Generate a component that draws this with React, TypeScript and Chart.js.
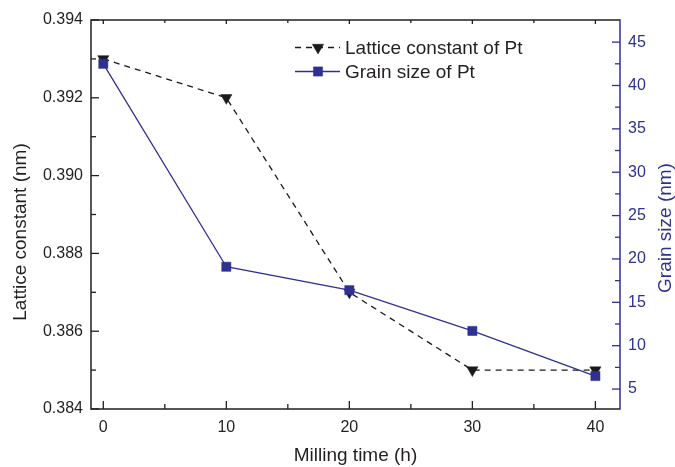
import React, { useEffect, useRef } from 'react';
import { Chart, registerables } from 'chart.js';
import { drawPoint } from 'chart.js/helpers';

Chart.register(...registerables);

// ---- data ----
const millingTime = [0, 10, 20, 30, 40];
const latticeConstant = [0.393, 0.392, 0.387, 0.385, 0.385];
const grainSize = [42.5, 19.1, 16.4, 11.7, 6.5];

// ---- ticks ----
const xTicks = [0, 10, 20, 30, 40];
const xMinorTicks = [5, 15, 25, 35];
const latticeTicks = [0.384, 0.386, 0.388, 0.39, 0.392, 0.394];
const latticeMinorTicks = [0.385, 0.387, 0.389, 0.391, 0.393];
const grainTicks = [5, 10, 15, 20, 25, 30, 35, 40, 45];
const grainMinorTicks = [7.5, 12.5, 17.5, 22.5, 27.5, 32.5, 37.5, 42.5];

// ---- text ----
const latticeLabel = 'Lattice constant of Pt';
const grainLabel = 'Grain size of Pt';
const xTitle = 'Milling time (h)';
const yLeftTitle = 'Lattice constant (nm)';
const yRightTitle = 'Grain size (nm)';

const TEXT = '#231f20';
const BLUE = '#2e3192';
const FONT_FAMILY = '"Liberation Sans", Arial, Helvetica, sans-serif';

const framePlugin = {
  id: 'framePlugin',
  afterDraw(chart: any) {
    const { ctx, chartArea: a, scales } = chart;
    const x = scales.x;
    const yl = scales.y;
    const yr = scales.y2;
    ctx.save();
    ctx.lineWidth = 1.5;
    ctx.lineCap = 'butt';

    // frame
    ctx.strokeStyle = TEXT;
    ctx.beginPath();
    ctx.moveTo(a.right, a.top);
    ctx.lineTo(a.left, a.top);
    ctx.lineTo(a.left, a.bottom);
    ctx.lineTo(a.right, a.bottom);
    ctx.stroke();
    ctx.strokeStyle = BLUE;
    ctx.beginPath();
    ctx.moveTo(a.right, a.top - 0.75);
    ctx.lineTo(a.right, a.bottom + 0.75);
    ctx.stroke();

    // x ticks (bottom up, top down)
    ctx.strokeStyle = TEXT;
    ctx.lineWidth = 1.3;
    const xt = (vals: number[], lenB: number, lenT: number) => {
      vals.forEach((v) => {
        const px = x.getPixelForValue(v);
        ctx.beginPath();
        ctx.moveTo(px, a.bottom);
        ctx.lineTo(px, a.bottom - lenB);
        ctx.moveTo(px, a.top);
        ctx.lineTo(px, a.top + lenT);
        ctx.stroke();
      });
    };
    xt(xTicks, 8, 4);
    xt(xMinorTicks, 5, 3);

    // left ticks
    const lt = (vals: number[], len: number) => {
      vals.forEach((v) => {
        const py = yl.getPixelForValue(v);
        ctx.beginPath();
        ctx.moveTo(a.left, py);
        ctx.lineTo(a.left + len, py);
        ctx.stroke();
      });
    };
    lt(latticeTicks, 8);
    lt(latticeMinorTicks, 5);

    // right ticks
    ctx.strokeStyle = BLUE;
    const rt = (vals: number[], len: number) => {
      vals.forEach((v) => {
        const py = yr.getPixelForValue(v);
        ctx.beginPath();
        ctx.moveTo(a.right, py);
        ctx.lineTo(a.right - len, py);
        ctx.stroke();
      });
    };
    rt(grainTicks, 8);
    rt(grainMinorTicks, 5);

    // axis titles
    ctx.font = `19px ${FONT_FAMILY}`;
    ctx.textAlign = 'center';
    ctx.textBaseline = 'alphabetic';
    ctx.fillStyle = TEXT;
    ctx.fillText(xTitle, (a.left + a.right) / 2, 461);

    ctx.save();
    ctx.translate(26, 232);
    ctx.rotate(-Math.PI / 2);
    ctx.fillText(yLeftTitle, 0, 0);
    ctx.restore();

    ctx.save();
    ctx.fillStyle = BLUE;
    ctx.translate(670.5, 228);
    ctx.rotate(-Math.PI / 2);
    ctx.fillText(yRightTitle, 0, 0);
    ctx.restore();

    // legend
    const ds = chart.data.datasets;
    const rows = [
      { d: ds[0], base: 54 },
      { d: ds[1], base: 78 },
    ];
    const x0 = 295;
    const x1 = 340;
    const xm = 318;
    rows.forEach(({ d, base }) => {
      const ly = base - 6.5;
      ctx.save();
      ctx.strokeStyle = d.borderColor;
      ctx.lineWidth = d.borderWidth;
      ctx.setLineDash(d.borderDash || []);
      ctx.beginPath();
      ctx.moveTo(x0, ly);
      ctx.lineTo(x1, ly);
      ctx.stroke();
      ctx.restore();
      ctx.save();
      ctx.fillStyle = d.pointBackgroundColor;
      ctx.strokeStyle = d.pointBorderColor;
      ctx.lineWidth = d.pointBorderWidth;
      drawPoint(ctx, {
        pointStyle: d.pointStyle,
        rotation: d.pointRotation || 0,
        radius: d.pointRadius,
        borderWidth: d.pointBorderWidth,
      } as any, xm, ly);
      ctx.restore();
      ctx.font = `19px ${FONT_FAMILY}`;
      ctx.fillStyle = TEXT;
      ctx.textAlign = 'left';
      ctx.textBaseline = 'alphabetic';
      ctx.fillText(d.label, 345, base);
    });

    ctx.restore();
  },
};

export default function App() {
  const ref = useRef<HTMLCanvasElement | null>(null);

  useEffect(() => {
    if (!ref.current) return;
    const tickFont = { family: FONT_FAMILY, size: 16 };
    const chart = new Chart(ref.current, {
      type: 'line',
      data: {
        datasets: [
          {
            label: latticeLabel,
            data: millingTime.map((t, i) => ({ x: t, y: latticeConstant[i] })),
            yAxisID: 'y',
            borderColor: '#1a1a1a',
            backgroundColor: '#1a1a1a',
            borderWidth: 1.3,
            borderDash: [6, 5],
            pointStyle: 'triangle',
            pointRotation: 180,
            pointRadius: 6.5,
            pointBackgroundColor: '#1a1a1a',
            pointBorderColor: '#1a1a1a',
            pointBorderWidth: 0.5,
            tension: 0,
            order: 2,
          },
          {
            label: grainLabel,
            data: millingTime.map((t, i) => ({ x: t, y: grainSize[i] })),
            yAxisID: 'y2',
            borderColor: BLUE,
            backgroundColor: BLUE,
            borderWidth: 1.3,
            pointStyle: 'rect',
            pointRadius: 6.5,
            pointBackgroundColor: BLUE,
            pointBorderColor: BLUE,
            pointBorderWidth: 0.5,
            tension: 0,
            order: 1,
          },
        ],
      },
      options: {
        responsive: false,
        animation: false,
        devicePixelRatio: 1,
        layout: { padding: { top: 20, left: 0, right: 0, bottom: 0 } },
        plugins: {
          legend: { display: false },
          tooltip: { enabled: false },
        },
        scales: {
          x: {
            type: 'linear',
            position: 'bottom',
            min: -1,
            max: 42,
            grid: { display: false, drawTicks: false },
            border: { display: false },
            ticks: {
              font: tickFont,
              color: TEXT,
              padding: 9,
              maxRotation: 0,
              autoSkip: false,
              callback: (v: any) => String(v),
            },
            afterBuildTicks: (s: any) => {
              s.ticks = xTicks.map((v) => ({ value: v }));
            },
            afterFit: (s: any) => {
              s.height = 58;
            },
          },
          y: {
            type: 'linear',
            position: 'left',
            min: 0.384,
            max: 0.394,
            grid: { display: false, drawTicks: false },
            border: { display: false },
            ticks: {
              font: tickFont,
              color: TEXT,
              padding: 8,
              autoSkip: false,
              callback: (v: any) => Number(v).toFixed(3),
            },
            afterBuildTicks: (s: any) => {
              s.ticks = latticeTicks.map((v) => ({ value: v }));
            },
            afterFit: (s: any) => {
              s.width = 91;
            },
          },
          y2: {
            type: 'linear',
            position: 'right',
            min: 2.7,
            max: 47.55,
            grid: { display: false, drawTicks: false },
            border: { display: false },
            ticks: {
              font: tickFont,
              color: BLUE,
              padding: 8,
              autoSkip: false,
              callback: (v: any) => String(v),
            },
            afterBuildTicks: (s: any) => {
              s.ticks = grainTicks.map((v) => ({ value: v }));
            },
            afterFit: (s: any) => {
              s.width = 55;
            },
          },
        },
      },
      plugins: [framePlugin],
    });
    return () => chart.destroy();
  }, []);

  return (
    <div
      style={{
        position: 'fixed',
        left: 0,
        top: 0,
        width: 675,
        height: 467,
        background: '#ffffff',
      }}
    >
      <canvas ref={ref} width={675} height={467} style={{ display: 'block' }} />
    </div>
  );
}
